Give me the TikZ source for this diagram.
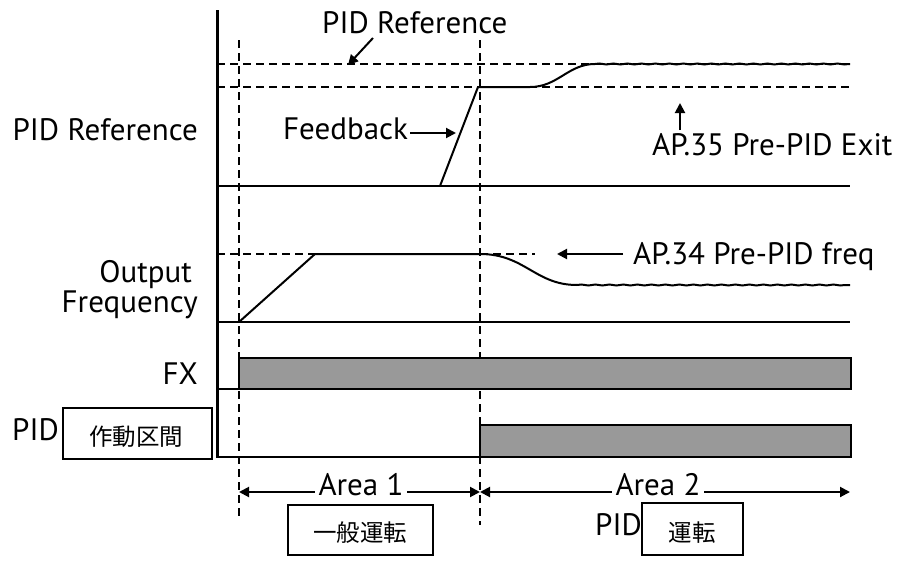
\documentclass[tikz,border=0pt]{standalone}
\usepackage{fontspec}
\setmainfont{PT Sans}
\newfontfamily\jpfont{Noto Sans CJK JP}
\usetikzlibrary{arrows.meta,decorations.pathmorphing}
\begin{document}
\begin{tikzpicture}[x=1pt,y=-1pt,
  lbl/.style={inner sep=0pt,font=\fontsize{31}{31}\selectfont},
  jbox/.style={draw,line width=1.6pt,inner sep=0pt},
  jtxt/.style={inner sep=0pt,font=\jpfont\fontsize{23.5}{23.5}\selectfont},
  axisline/.style={line width=3pt},
  baseline/.style={line width=2.4pt},
  guide/.style={line width=1.8pt,dash pattern=on 8pt off 5pt},
  signal/.style={line width=2pt},
  wave/.style={line width=2pt,decorate,decoration={snake,amplitude=0.5pt,segment length=14pt}},
  bar/.style={draw,line width=2.2pt,fill=black!40},
  tip/.style={-{Triangle[length=10pt,width=10pt]},line width=2pt},
  twotip/.style={{Triangle[length=10pt,width=10pt]}-{Triangle[length=10pt,width=10pt]},line width=2pt}
]
\useasboundingbox (0,0) rectangle (900,560);
% coordinates
\coordinate (axT) at (217,10);
\coordinate (axB) at (217,458);
\coordinate (v1T) at (239,40);
\coordinate (v1B) at (239,516);
\coordinate (v2T) at (480,40);
\coordinate (v2B) at (480,525);
% guides
\draw[guide] (v1T) -- (v1B);
\draw[guide] (v2T) -- (v2B);
\coordinate (r1L) at (217,64); \coordinate (r1R) at (850,64);
\coordinate (r2L) at (217,87); \coordinate (r2R) at (850,87);
\draw[guide] (r1L) -- (r1R);
\draw[guide] (r2L) -- (r2R);
% baselines
\coordinate (b1L) at (217,186); \coordinate (b1R) at (850,186);
\coordinate (b2L) at (217,322); \coordinate (b2R) at (850,322);
\draw[baseline] (b1L) -- (b1R);
\draw[baseline] (b2L) -- (b2R);
% feedback curve
\coordinate (f0) at (440,186);
\coordinate (f1) at (478,87);
\coordinate (f2) at (530,87);
\coordinate (f3) at (595,64);
\coordinate (f4) at (850,64);
\draw[signal,line join=round] (f0) -- (f1) -- (f2) .. controls (558,87) and (568,64) .. (f3);
\draw[wave] (f3) -- (f4);
% output frequency
\coordinate (o0) at (239,322);
\coordinate (o1) at (315,254);
\coordinate (o2) at (480,254);
\coordinate (o3) at (577,285);
\coordinate (o4) at (850,285);
\coordinate (oL) at (217,254);
\coordinate (oD) at (535,254);
\draw[guide] (oL) -- (o1);
\draw[guide] (o2) -- (oD);
\draw[signal,line join=round] (o0) -- (o1) -- (o2) .. controls (525,254) and (535,285) .. (o3);
\draw[wave] (o3) -- (o4);
% FX
\coordinate (fxL) at (217,389);
\draw[baseline] (fxL) -- (239,389);
\draw[bar] (239,358) rectangle (851,389);
% PID
\coordinate (pidL) at (217,457);
\draw[baseline] (pidL) -- (480,457);
\draw[bar] (480,425) rectangle (851,457);
% axis
\draw[axisline] (axT) -- (axB);
% labels left
\node[lbl,anchor=base east] (lref) at (198,140) {PID Reference};
\node[lbl,anchor=base east] (lout) at (192,282) {Output};
\node[lbl,anchor=base east] (lfreq) at (198,312) {Frequency};
\node[lbl,anchor=base east] (lfx) at (198,384) {FX};
\node[lbl,anchor=base west] (lpid) at (12,440) {PID};
\node[jbox,minimum width=149pt,minimum height=51pt] (bx1) at (137.5,433.5) {};
\node[jtxt] (bx1t) at (136,437) {作動区間};
% top labels
\node[lbl,anchor=base west] (tref) at (322,33) {PID Reference};
\coordinate (trefA) at (373,38);
\coordinate (trefB) at (348,65);
\draw[tip] (trefA) -- (trefB);
\node[lbl,anchor=base west] (fb) at (283,139) {Feedback};
\coordinate (fbB) at (456,133);
\draw[tip] (fb.east |- fbB) ++(2,0) coordinate (fbA) (fbA) -- (fbB);
\node[lbl,anchor=base west] (ap35) at (652,155) {AP.35 Pre-PID Exit};
\coordinate (ap35A) at (680,130);
\coordinate (ap35B) at (680,103);
\draw[tip] (ap35A) -- (ap35B);
\node[lbl,anchor=base west] (ap34) at (633,264) {AP.34 Pre-PID freq};
\coordinate (ap34A) at (623,254);
\coordinate (ap34B) at (557,254);
\draw[tip] (ap34A) -- (ap34B);
% areas
\coordinate (a1L) at (239,492);
\coordinate (a1R) at (480,492);
\coordinate (a2R) at (850,492);
\draw[twotip] (a1L) -- (a1R);
\draw[twotip] (a1R) -- (a2R);
\node[lbl,fill=white,inner xsep=4pt,anchor=base] (ar1) at (361,495) {Area 1};
\node[lbl,fill=white,inner xsep=4pt,anchor=base] (ar2) at (658,495) {Area 2};
\node[jbox,minimum width=145pt,minimum height=50pt] (bx2) at (360.5,530) {};
\node[jtxt] (bx2t) at (360,533) {一般運転};
\node[lbl,anchor=base west] (pid2) at (595,535) {PID};
\node[jbox,minimum width=101pt,minimum height=52pt] (bx3) at (692.5,529) {};
\node[jtxt] (bx3t) at (692,533) {運転};
\end{tikzpicture}
\end{document}
